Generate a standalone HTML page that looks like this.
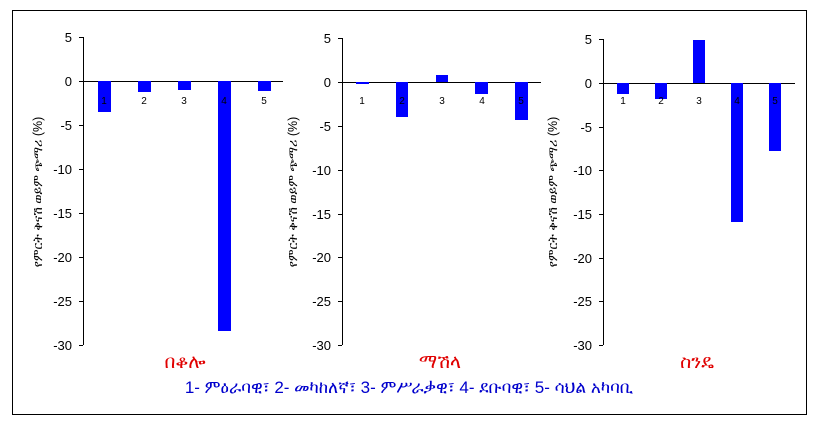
<!DOCTYPE html>
<html><head><meta charset="utf-8"><style>
body{margin:0;background:#fff;}
</style></head><body>
<svg width="818" height="428" xmlns="http://www.w3.org/2000/svg" font-family="'Liberation Sans','DejaVu Sans',sans-serif">
<rect x="12.5" y="10.5" width="794" height="404" fill="#fff" stroke="#000" stroke-width="1"/>
<g id="c1">
<line x1="83.5" y1="37" x2="83.5" y2="345" stroke="#000"/>
<line x1="83" y1="81.5" x2="283" y2="81.5" stroke="#000"/>
<g stroke="#000"><line x1="79" y1="37.5" x2="83" y2="37.5"/><line x1="79" y1="81.5" x2="83" y2="81.5"/><line x1="79" y1="125.5" x2="83" y2="125.5"/><line x1="79" y1="169.5" x2="83" y2="169.5"/><line x1="79" y1="213.5" x2="83" y2="213.5"/><line x1="79" y1="257.5" x2="83" y2="257.5"/><line x1="79" y1="301.5" x2="83" y2="301.5"/><line x1="79" y1="345.5" x2="83" y2="345.5"/></g>
<g font-size="13" text-anchor="end" fill="#000"><text x="72" y="42">5</text><text x="72" y="86">0</text><text x="72" y="130">-5</text><text x="72" y="174">-10</text><text x="72" y="218">-15</text><text x="72" y="262">-20</text><text x="72" y="306">-25</text><text x="72" y="350">-30</text></g>
<g fill="#0000ff"><rect x="98" y="81" width="13" height="31"/><rect x="138" y="81" width="13" height="11"/><rect x="178" y="81" width="13" height="9"/><rect x="218" y="81" width="13" height="250"/><rect x="258" y="81" width="13" height="10"/></g>
<g font-size="10" text-anchor="middle" fill="#000"><text x="104" y="104">1</text><text x="144" y="104">2</text><text x="184" y="104">3</text><text x="224" y="104">4</text><text x="264" y="104">5</text></g>
<text transform="translate(42,192) rotate(-90)" font-size="12.5" text-anchor="middle" fill="#000">የምርት ቅናሽ ወይም ጭማሪ (%)</text>
<text x="185" y="368" font-size="19" text-anchor="middle" fill="#e00000">በቆሎ</text>
</g>
<g id="c2">
<line x1="342.5" y1="38" x2="342.5" y2="345" stroke="#000"/>
<line x1="342" y1="82.5" x2="541" y2="82.5" stroke="#000"/>
<g stroke="#000"><line x1="338" y1="38.5" x2="342" y2="38.5"/><line x1="338" y1="82.5" x2="342" y2="82.5"/><line x1="338" y1="126.5" x2="342" y2="126.5"/><line x1="338" y1="170.5" x2="342" y2="170.5"/><line x1="338" y1="214.5" x2="342" y2="214.5"/><line x1="338" y1="257.5" x2="342" y2="257.5"/><line x1="338" y1="301.5" x2="342" y2="301.5"/><line x1="338" y1="345.5" x2="342" y2="345.5"/></g>
<g font-size="13" text-anchor="end" fill="#000"><text x="331" y="43">5</text><text x="331" y="87">0</text><text x="331" y="131">-5</text><text x="331" y="175">-10</text><text x="331" y="219">-15</text><text x="331" y="262">-20</text><text x="331" y="306">-25</text><text x="331" y="350">-30</text></g>
<g fill="#0000ff"><rect x="356" y="82" width="13" height="2"/><rect x="396" y="82" width="12" height="35"/><rect x="436" y="75" width="12" height="7"/><rect x="475" y="82" width="13" height="12"/><rect x="515" y="82" width="13" height="38"/></g>
<g font-size="10" text-anchor="middle" fill="#000"><text x="362" y="104">1</text><text x="402" y="104">2</text><text x="442" y="104">3</text><text x="482" y="104">4</text><text x="521" y="104">5</text></g>
<text transform="translate(297,192) rotate(-90)" font-size="12.5" text-anchor="middle" fill="#000">የምርት ቅናሽ ወይም ጭማሪ (%)</text>
<text x="440" y="368" font-size="19" text-anchor="middle" fill="#e00000">ማሽላ</text>
</g>
<g id="c3">
<line x1="603.5" y1="39" x2="603.5" y2="345" stroke="#000"/>
<line x1="603" y1="83.5" x2="795" y2="83.5" stroke="#000"/>
<g stroke="#000"><line x1="599" y1="39.5" x2="603" y2="39.5"/><line x1="599" y1="83.5" x2="603" y2="83.5"/><line x1="599" y1="127.5" x2="603" y2="127.5"/><line x1="599" y1="170.5" x2="603" y2="170.5"/><line x1="599" y1="214.5" x2="603" y2="214.5"/><line x1="599" y1="258.5" x2="603" y2="258.5"/><line x1="599" y1="301.5" x2="603" y2="301.5"/><line x1="599" y1="345.5" x2="603" y2="345.5"/></g>
<g font-size="13" text-anchor="end" fill="#000"><text x="592" y="44">5</text><text x="592" y="88">0</text><text x="592" y="132">-5</text><text x="592" y="175">-10</text><text x="592" y="219">-15</text><text x="592" y="263">-20</text><text x="592" y="306">-25</text><text x="592" y="350">-30</text></g>
<g fill="#0000ff"><rect x="617" y="83" width="12" height="11"/><rect x="655" y="83" width="12" height="16"/><rect x="693" y="40" width="12" height="43"/><rect x="731" y="83" width="12" height="139"/><rect x="769" y="83" width="12" height="68"/></g>
<g font-size="10" text-anchor="middle" fill="#000"><text x="623" y="104">1</text><text x="661" y="104">2</text><text x="699" y="104">3</text><text x="737" y="104">4</text><text x="775" y="104">5</text></g>
<text transform="translate(557,192) rotate(-90)" font-size="12.5" text-anchor="middle" fill="#000">የምርት ቅናሽ ወይም ጭማሪ (%)</text>
<text x="697" y="368" font-size="19" text-anchor="middle" fill="#e00000">ስንዴ</text>
</g>
<text x="409" y="393" font-size="17" text-anchor="middle" fill="#0000cc">1- ምዕራባዊ፣ 2- መካከለኛ፣ 3- ምሥራቃዊ፣ 4- ደቡባዊ፣ 5- ሳህል አካባቢ</text>
</svg>
</body></html>
